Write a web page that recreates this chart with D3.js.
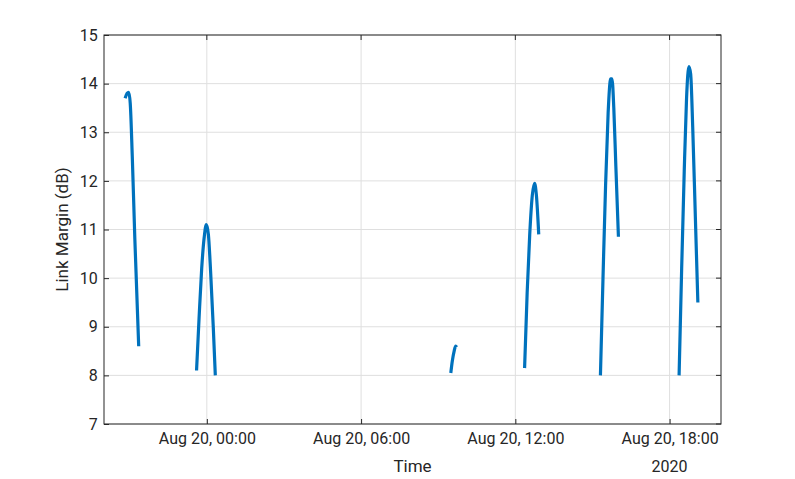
<!DOCTYPE html>
<html><head><meta charset="utf-8">
<script src="https://cdn.jsdelivr.net/npm/d3@7"></script>
<style>body{margin:0;background:#fff}text{font-family:Roboto,"Liberation Sans",sans-serif;fill:#262626}</style>
</head><body>
<script>
// hours since Aug 19 2020 20:00, link margin dB
var pass1 = [[0.82,13.7],[0.9,13.8],[0.96,13.82],[1.02,13.6],[1.1,12.5],[1.2,10.8],[1.35,8.6]];
var pass2 = [[3.6,8.1],[3.7,9.2],[3.8,10.2],[3.9,10.85],[3.98,11.1],[4.06,10.9],[4.15,10.1],[4.25,9.0],[4.33,8.0]];
var pass3 = [[13.49,8.05],[13.55,8.3],[13.62,8.5],[13.68,8.6],[13.72,8.58]];
var pass4 = [[16.36,8.15],[16.46,9.7],[16.56,10.9],[16.66,11.7],[16.75,11.95],[16.82,11.7],[16.91,10.9]];
var pass5 = [[19.31,8.0],[19.41,10.0],[19.51,11.9],[19.61,13.4],[19.71,14.1],[19.76,14.1],[19.83,13.5],[19.91,12.3],[20.01,10.85]];
var pass6 = [[22.37,8.0],[22.47,10.2],[22.57,12.2],[22.66,13.7],[22.75,14.35],[22.82,14.2],[22.9,13.1],[23.0,11.3],[23.1,9.5]];
var passes = [pass1, pass2, pass3, pass4, pass5, pass6];
var xTicks = [4, 10, 16, 22];
var xTickLabels = ["Aug 20, 00:00", "Aug 20, 06:00", "Aug 20, 12:00", "Aug 20, 18:00"];
var yTicks = [7, 8, 9, 10, 11, 12, 13, 14, 15];

var L = 104, R = 721, T = 35, B = 424;
var svg = d3.select("body").append("svg").attr("width", 795).attr("height", 479);
var x = d3.scaleLinear().domain([0, 24]).range([L, R]);
var y = d3.scaleLinear().domain([7, 15]).range([B, T]);

svg.selectAll(".gx").data(xTicks).enter().append("line")
  .attr("x1", d => x(d)).attr("x2", d => x(d)).attr("y1", T).attr("y2", B)
  .attr("stroke", "#dfdfdf");
svg.selectAll(".gy").data(yTicks).enter().append("line")
  .attr("y1", d => y(d)).attr("y2", d => y(d)).attr("x1", L).attr("x2", R)
  .attr("stroke", "#dfdfdf");

var line = d3.line().x(d => x(d[0])).y(d => y(d[1])).curve(d3.curveMonotoneX);
svg.selectAll(".pass").data(passes).enter().append("path")
  .attr("d", line).attr("fill", "none").attr("stroke", "#0072BD").attr("stroke-width", 3.2);

var xa = svg.append("g").attr("transform", "translate(0," + B + ")")
  .call(d3.axisBottom(x).tickValues(xTicks).tickSize(-5).tickFormat((d, i) => xTickLabels[i]));
var ya = svg.append("g").attr("transform", "translate(" + L + ",0)")
  .call(d3.axisLeft(y).tickValues(yTicks).tickSize(-5).tickFormat(d3.format("d")));
[xa, ya].forEach(function(a){
  a.select(".domain").remove();
  a.selectAll("line").attr("stroke", "#262626");
  a.selectAll("text").style("font-size", "16px").attr("fill", "#262626");
});
xa.selectAll("text").attr("dy", "1.05em");
ya.selectAll("text").attr("dx", "-0.2em");
svg.selectAll(".tt").data(xTicks).enter().append("line")
  .attr("x1", d => x(d)).attr("x2", d => x(d)).attr("y1", T).attr("y2", T + 5).attr("stroke", "#262626");
svg.selectAll(".rt").data(yTicks).enter().append("line")
  .attr("x1", R).attr("x2", R - 5).attr("y1", d => y(d)).attr("y2", d => y(d)).attr("stroke", "#262626");
svg.append("rect").attr("x", L).attr("y", T).attr("width", R - L).attr("height", B - T)
  .attr("fill", "none").attr("stroke", "#262626");

svg.append("text").attr("x", x(22)).attr("y", 472).attr("text-anchor", "middle").style("font-size", "16px").text("2020");
svg.append("text").attr("x", (L + R) / 2).attr("y", 472).attr("text-anchor", "middle").style("font-size", "17px").text("Time");
svg.append("text").attr("transform", "translate(68," + (T + B) / 2 + ") rotate(-90)")
  .attr("text-anchor", "middle").style("font-size", "17px").text("Link Margin (dB)");
</script>
</body></html>
